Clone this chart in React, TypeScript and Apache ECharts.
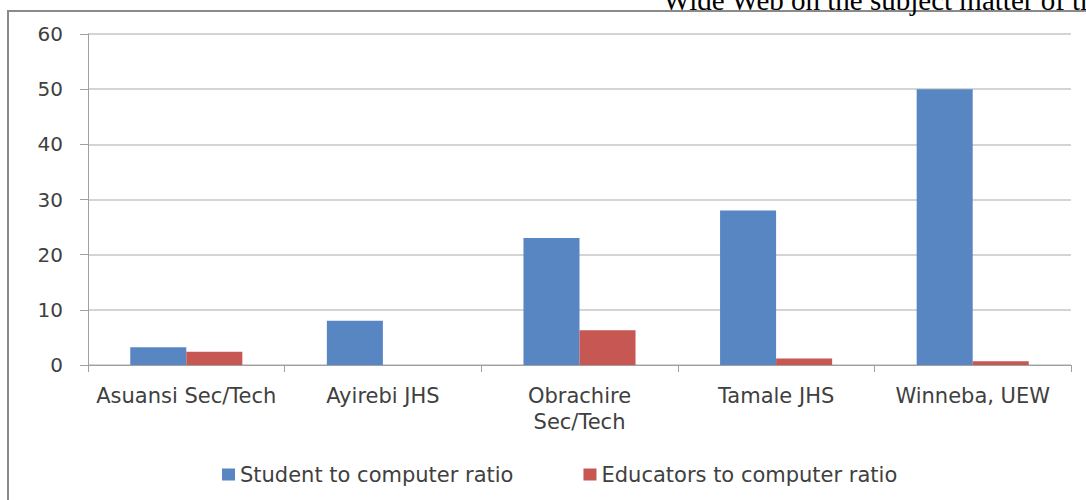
import React, { useEffect, useRef } from "react";
import * as echarts from "echarts";

const categories = ["Asuansi Sec/Tech", "Ayirebi JHS", "Obrachire\nSec/Tech", "Tamale JHS", "Winneba, UEW"];
const studentRatio = [3.2, 8, 23, 28, 50];
const educatorRatio = [2.4, 0, 6.3, 1.2, 0.7];
const seriesNames = ["Student to computer ratio", "Educators to computer ratio"];
const yTicks = { min: 0, max: 60, interval: 10 };
const pageText = "Wide Web on the subject matter of th";

const FONT = "'DejaVu Sans', sans-serif";
const LABEL = "#404040";

export default function App() {
  const ref = useRef<HTMLDivElement>(null);
  useEffect(() => {
    document.body.style.margin = "0";
    const chart = echarts.init(ref.current!, undefined, { renderer: "svg" });
    chart.setOption({
      animation: false,
      backgroundColor: "#ffffff",
      graphic: [
        {
          type: "rect",
          shape: { x: 8, y: 11, width: 1200, height: 600 },
          style: { fill: "none", stroke: "#8a8a8a", lineWidth: 2 },
          z: 0,
        },
        {
          type: "text",
          x: 663,
          y: 14,
          style: {
            text: pageText,
            font: "29px 'Liberation Serif', serif",
            fill: "#000",
            verticalAlign: "bottom",
          },
        },
      ],
      grid: { left: 88, top: 34, right: 15, bottom: 135, containLabel: false },
      legend: {
        data: seriesNames,
        bottom: 10,
        left: 217,
        itemWidth: 13,
        itemHeight: 12,
        itemGap: 70,
        icon: "rect",
        textStyle: { fontFamily: FONT, fontSize: 21, color: LABEL },
      },
      xAxis: {
        type: "category",
        data: categories,
        axisLine: { lineStyle: { color: "#a0a0a0", width: 1 } },
        axisTick: { show: true, length: 7, lineStyle: { color: "#a0a0a0" } },
        axisLabel: {
          fontFamily: FONT,
          fontSize: 21,
          color: LABEL,
          margin: 18,
          lineHeight: 26,
          interval: 0,
        },
      },
      yAxis: {
        type: "value",
        min: yTicks.min,
        max: yTicks.max,
        interval: yTicks.interval,
        axisLine: { show: true, lineStyle: { color: "#a0a0a0", width: 1 } },
        axisTick: { show: true, length: 8, lineStyle: { color: "#a0a0a0" } },
        splitLine: { lineStyle: { color: "#d4d4d4", width: 2 } },
        axisLabel: { fontFamily: FONT, fontSize: 20, color: LABEL, margin: 25 },
      },
      series: [
        {
          name: seriesNames[0],
          type: "bar",
          data: studentRatio,
          barGap: "0%",
          barCategoryGap: "43%",
          itemStyle: { color: "#5786c3" },
        },
        {
          name: seriesNames[1],
          type: "bar",
          data: educatorRatio,
          itemStyle: { color: "#c65753" },
        },
      ],
    });
    return () => chart.dispose();
  }, []);
  return <div ref={ref} style={{ width: 1086, height: 500, position: "absolute", left: 0, top: 0 }} />;
}
